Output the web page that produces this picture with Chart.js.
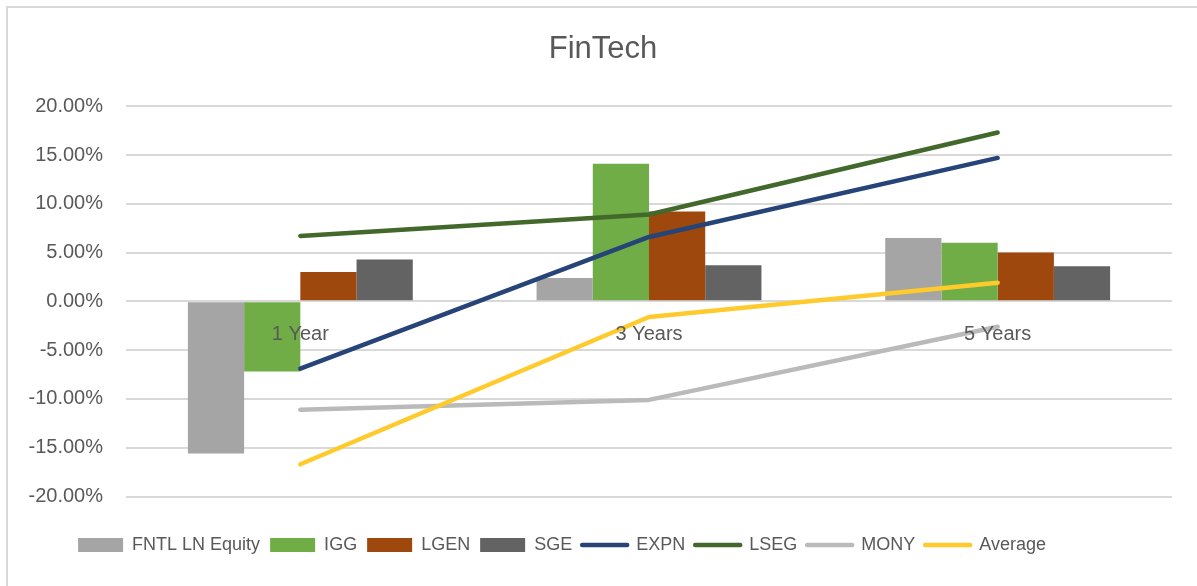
<!DOCTYPE html>
<html>
<head>
<meta charset="utf-8">
<script src="https://cdn.jsdelivr.net/npm/chart.js@4.4.0/dist/chart.umd.min.js"></script>
<style>
  html, body { margin: 0; padding: 0; background: #fff; overflow: hidden; }
  #wrap { position: relative; width: 1197px; height: 586px; overflow: hidden; }
  #frame { position: absolute; left: 6px; top: 6px; width: 1300px; height: 700px;
           border: 2px solid #d9d9d9; pointer-events: none; }
</style>
</head>
<body>
<div id="wrap">
  <canvas id="chart" width="1197" height="586"></canvas>
  <div id="frame"></div>
</div>
<script>
// Categories and series (values in %)
const categories = ['1 Year', '3 Years', '5 Years'];

const fntl    = [-15.6, 2.4, 6.5];
const igg     = [-7.2, 14.1, 6.0];
const lgen    = [3.0, 9.2, 5.0];
const sge     = [4.3, 3.7, 3.6];

const expn    = [-6.9, 6.6, 14.7];
const lseg    = [6.7, 8.9, 17.3];
const mony    = [-11.1, -10.1, -2.6];
const average = [-16.7, -1.6, 1.9];

const yTicks = [-20, -15, -10, -5, 0, 5, 10, 15, 20];

const FONT = "'Liberation Sans', Arial, sans-serif";
const TEXT = '#595959';

const barSeries = [
    { label: 'FNTL LN Equity', data: fntl, color: '#A5A5A5' },
    { label: 'IGG', data: igg, color: '#70AD47' },
    { label: 'LGEN', data: lgen, color: '#9E480E' },
    { label: 'SGE', data: sge, color: '#636363' }
];
const lineSeries = [
    { label: 'EXPN', data: expn, color: '#264478', order: 4 },
    { label: 'LSEG', data: lseg, color: '#43682B', order: 3 },
    { label: 'MONY', data: mony, color: '#BABABA', order: 2 },
    { label: 'Average', data: average, color: '#FFCA2C', order: 1 }
];

const datasets = [];
barSeries.forEach(s => {
    datasets.push({
        type: 'bar',
        label: s.label,
        data: s.data,
        backgroundColor: s.color,
        borderWidth: 0,
        categoryPercentage: 0.645,
        barPercentage: 1.0,
        order: 10
    });
});
lineSeries.forEach(s => {
    datasets.push({
        type: 'line',
        label: s.label,
        data: s.data,
        borderColor: s.color,
        backgroundColor: s.color,
        borderWidth: 4.5,
        borderCapStyle: 'round',
        borderJoinStyle: 'round',
        pointRadius: 0,
        tension: 0,
        fill: false,
        order: s.order
    });
});

// Excel places the title and legend slightly off the plot centre
const shiftBoxes = {
    id: 'shiftBoxes',
    afterLayout(chart) {
        chart.legend.left -= 24;
        chart.legend.right -= 24;
        chart.titleBlock.left += 17;
        chart.titleBlock.right += 17;
    }
};

new Chart(document.getElementById('chart'), {
    data: { labels: categories, datasets: datasets },
    plugins: [shiftBoxes],
    options: {
        responsive: false,
        animation: false,
        layout: { padding: { left: 0, right: 25, top: 0, bottom: 22 } },
        plugins: {
            tooltip: { enabled: false },
            title: {
                display: true,
                text: 'FinTech',
                color: TEXT,
                font: { family: FONT, size: 31, weight: 'normal' },
                padding: { top: 31, bottom: 38 }
            },
            legend: {
                position: 'bottom',
                labels: {
                    color: TEXT,
                    font: { family: FONT, size: 18 },
                    usePointStyle: true,
                    pointStyleWidth: 45,
                    boxHeight: 14,
                    padding: 10,
                    generateLabels: chart => chart.data.datasets.map((ds, i) => {
                        const isLine = ds.type === 'line';
                        return {
                            text: ds.label,
                            datasetIndex: i,
                            fillStyle: isLine ? ds.borderColor : ds.backgroundColor,
                            strokeStyle: isLine ? ds.borderColor : ds.backgroundColor,
                            lineWidth: isLine ? 4.5 : 0,
                            lineCap: 'round',
                            pointStyle: isLine ? 'line' : 'rect',
                            fontColor: TEXT,
                            hidden: false
                        };
                    })
                }
            }
        },
        scales: {
            x: {
                position: { y: 0 },
                grid: { display: false },
                border: { display: false },
                ticks: {
                    z: 1,   // category labels sit on top of the bars
                    color: TEXT,
                    font: { family: FONT, size: 20 },
                    padding: 13
                }
            },
            xpad: {
                type: 'category',
                position: 'bottom',
                grid: { display: false },
                border: { display: false },
                ticks: { display: false },
                afterFit: s => { s.height = 29.5; }
            },
            y: {
                min: -20,
                max: 20,
                grid: { color: '#d9d9d9', lineWidth: 2, drawTicks: false },
                border: { display: false },
                afterBuildTicks: s => { s.ticks = yTicks.map(v => ({ value: v })); },
                afterFit: s => { s.width = 126; },
                ticks: {
                    color: TEXT,
                    font: { family: FONT, size: 20 },
                    padding: 23,
                    callback: v => v.toFixed(2) + '%'
                }
            }
        }
    }
});
</script>
</body>
</html>
